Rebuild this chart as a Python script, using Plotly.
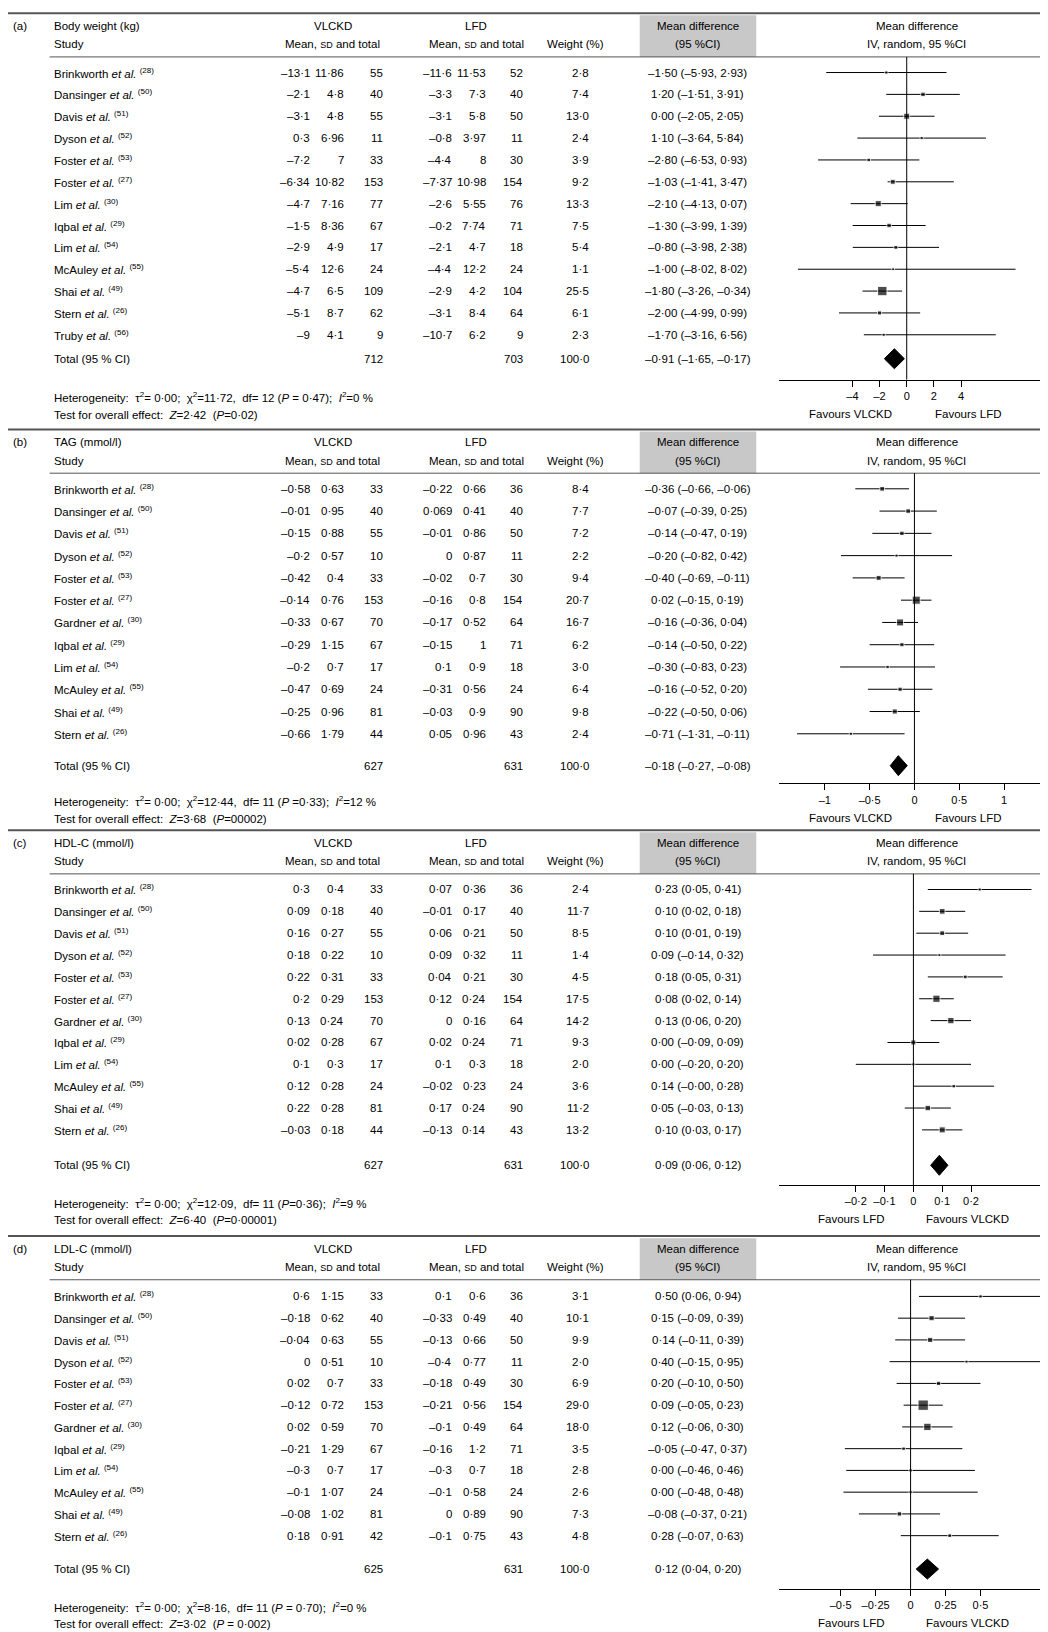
import plotly.graph_objects as go

W, H = 1048, 1632
K = 1048 / 1007  # layout below measured on a 1007-wide view

studies_a = ["Brinkworth", "Dansinger", "Davis", "Dyson", "Foster", "Foster", "Lim", "Iqbal",
             "Lim", "McAuley", "Shai", "Stern", "Truby"]
refs_a = [28, 50, 51, 52, 53, 27, 30, 29, 54, 55, 49, 26, 56]
studies_bcd = ["Brinkworth", "Dansinger", "Davis", "Dyson", "Foster", "Foster", "Gardner", "Iqbal",
               "Lim", "McAuley", "Shai", "Stern"]
refs_bcd = [28, 50, 51, 52, 53, 27, 30, 29, 54, 55, 49, 26]

# (a) body weight
a_vl_mean = [-13.1, -2.1, -3.1, 0.3, -7.2, -6.34, -4.7, -1.5, -2.9, -5.4, -4.7, -5.1, -9]
a_vl_sd = [11.86, 4.8, 4.8, 6.96, 7, 10.82, 7.16, 8.36, 4.9, 12.6, 6.5, 8.7, 4.1]
a_vl_n = [55, 40, 55, 11, 33, 153, 77, 67, 17, 24, 109, 62, 9]
a_lf_mean = [-11.6, -3.3, -3.1, -0.8, -4.4, -7.37, -2.6, -0.2, -2.1, -4.4, -2.9, -3.1, -10.7]
a_lf_sd = [11.53, 7.3, 5.8, 3.97, 8, 10.98, 5.55, 7.74, 4.7, 12.2, 4.2, 8.4, 6.2]
a_lf_n = [52, 40, 50, 11, 30, 154, 76, 71, 18, 24, 104, 64, 9]
a_w = [2.8, 7.4, 13.0, 2.4, 3.9, 9.2, 13.3, 7.5, 5.4, 1.1, 25.5, 6.1, 2.3]
a_md = [-1.50, 1.20, 0.00, 1.10, -2.80, -1.03, -2.10, -1.30, -0.80, -1.00, -1.80, -2.00, -1.70]
a_lo = [-5.93, -1.51, -2.05, -3.64, -6.53, -1.41, -4.13, -3.99, -3.98, -8.02, -3.26, -4.99, -3.16]
a_hi = [2.93, 3.91, 2.05, 5.84, 0.93, 3.47, 0.07, 1.39, 2.38, 8.02, -0.34, 0.99, 6.56]
a_tot = [712, 703, 100.0, -0.91, -1.65, -0.17]

# (b) TAG
b_vl_mean = [-0.58, -0.01, -0.15, -0.2, -0.42, -0.14, -0.33, -0.29, -0.2, -0.47, -0.25, -0.66]
b_vl_sd = [0.63, 0.95, 0.88, 0.57, 0.4, 0.76, 0.67, 1.15, 0.7, 0.69, 0.96, 1.79]
b_vl_n = [33, 40, 55, 10, 33, 153, 70, 67, 17, 24, 81, 44]
b_lf_mean = [-0.22, 0.069, -0.01, 0, -0.02, -0.16, -0.17, -0.15, 0.1, -0.31, -0.03, 0.05]
b_lf_sd = [0.66, 0.41, 0.86, 0.87, 0.7, 0.8, 0.52, 1, 0.9, 0.56, 0.9, 0.96]
b_lf_n = [36, 40, 50, 11, 30, 154, 64, 71, 18, 24, 90, 43]
b_w = [8.4, 7.7, 7.2, 2.2, 9.4, 20.7, 16.7, 6.2, 3.0, 6.4, 9.8, 2.4]
b_md = [-0.36, -0.07, -0.14, -0.20, -0.40, 0.02, -0.16, -0.14, -0.30, -0.16, -0.22, -0.71]
b_lo = [-0.66, -0.39, -0.47, -0.82, -0.69, -0.15, -0.36, -0.50, -0.83, -0.52, -0.50, -1.31]
b_hi = [-0.06, 0.25, 0.19, 0.42, -0.11, 0.19, 0.04, 0.22, 0.23, 0.20, 0.06, -0.11]
b_tot = [627, 631, 100.0, -0.18, -0.27, -0.08]

# (c) HDL-C
c_vl_mean = [0.3, 0.09, 0.16, 0.18, 0.22, 0.2, 0.13, 0.02, 0.1, 0.12, 0.22, -0.03]
c_vl_sd = [0.4, 0.18, 0.27, 0.22, 0.31, 0.29, 0.24, 0.28, 0.3, 0.28, 0.28, 0.18]
c_vl_n = [33, 40, 55, 10, 33, 153, 70, 67, 17, 24, 81, 44]
c_lf_mean = [0.07, -0.01, 0.06, 0.09, 0.04, 0.12, 0, 0.02, 0.1, -0.02, 0.17, -0.13]
c_lf_sd = [0.36, 0.17, 0.21, 0.32, 0.21, 0.24, 0.16, 0.24, 0.3, 0.23, 0.24, 0.14]
c_lf_n = [36, 40, 50, 11, 30, 154, 64, 71, 18, 24, 90, 43]
c_w = [2.4, 11.7, 8.5, 1.4, 4.5, 17.5, 14.2, 9.3, 2.0, 3.6, 11.2, 13.2]
c_md = [0.23, 0.10, 0.10, 0.09, 0.18, 0.08, 0.13, 0.00, 0.00, 0.14, 0.05, 0.10]
c_lo = [0.05, 0.02, 0.01, -0.14, 0.05, 0.02, 0.06, -0.09, -0.20, -0.0, -0.03, 0.03]
c_hi = [0.41, 0.18, 0.19, 0.32, 0.31, 0.14, 0.20, 0.09, 0.20, 0.28, 0.13, 0.17]
c_tot = [627, 631, 100.0, 0.09, 0.06, 0.12]

# (d) LDL-C
d_vl_mean = [0.6, -0.18, -0.04, 0, 0.02, -0.12, 0.02, -0.21, -0.3, -0.1, -0.08, 0.18]
d_vl_sd = [1.15, 0.62, 0.63, 0.51, 0.7, 0.72, 0.59, 1.29, 0.7, 1.07, 1.02, 0.91]
d_vl_n = [33, 40, 55, 10, 33, 153, 70, 67, 17, 24, 81, 42]
d_lf_mean = [0.1, -0.33, -0.13, -0.4, -0.18, -0.21, -0.1, -0.16, -0.3, -0.1, 0, -0.1]
d_lf_sd = [0.6, 0.49, 0.66, 0.77, 0.49, 0.56, 0.49, 1.2, 0.7, 0.58, 0.89, 0.75]
d_lf_n = [36, 40, 50, 11, 30, 154, 64, 71, 18, 24, 90, 43]
d_w = [3.1, 10.1, 9.9, 2.0, 6.9, 29.0, 18.0, 3.5, 2.8, 2.6, 7.3, 4.8]
d_md = [0.50, 0.15, 0.14, 0.40, 0.20, 0.09, 0.12, -0.05, 0.00, 0.00, -0.08, 0.28]
d_lo = [0.06, -0.09, -0.11, -0.15, -0.10, -0.05, -0.06, -0.47, -0.46, -0.48, -0.37, -0.07]
d_hi = [0.94, 0.39, 0.39, 0.95, 0.50, 0.23, 0.30, 0.37, 0.46, 0.48, 0.21, 0.63]
d_tot = [625, 631, 100.0, 0.12, 0.04, 0.20]

panels = [
    dict(tag="(a)", title="Body weight (kg)", studies=studies_a, refs=refs_a,
         vm=a_vl_mean, vs=a_vl_sd, vn=a_vl_n, lm=a_lf_mean, ls=a_lf_sd, ln=a_lf_n,
         w=a_w, md=a_md, lo=a_lo, hi=a_hi, tot=a_tot,
         het="Heterogeneity:  τ<sup>2</sup>= 0·00;  χ<sup>2</sup>=11·72,  df= 12 (<i>P</i> = 0·47);  <i>I</i><sup>2</sup>=0 %",
         test="Test for overall effect:  <i>Z</i>=2·42  (<i>P</i>=0·02)",
         ticks=[-4, -2, 0, 2, 4], rng=[-9.4, 11.0], fav=["Favours VLCKD", "Favours LFD"],
         top=5, row0=62, step=21.0, total=337, axis=357),
    dict(tag="(b)", title="TAG (mmol/l)", studies=studies_bcd, refs=refs_bcd,
         vm=b_vl_mean, vs=b_vl_sd, vn=b_vl_n, lm=b_lf_mean, ls=b_lf_sd, ln=b_lf_n,
         w=b_w, md=b_md, lo=b_lo, hi=b_hi, tot=b_tot,
         het="Heterogeneity:  τ<sup>2</sup>= 0·00;  χ<sup>2</sup>=12·44,  df= 11 (<i>P</i> =0·33);  <i>I</i><sup>2</sup>=12 %",
         test="Test for overall effect:  <i>Z</i>=3·68  (<i>P</i>=00002)",
         ticks=[-1, -0.5, 0, 0.5, 1], rng=[-1.51, 1.58], fav=["Favours VLCKD", "Favours LFD"],
         top=405, row0=462, step=21.4, total=728, axis=745),
    dict(tag="(c)", title="HDL-C (mmol/l)", studies=studies_bcd, refs=refs_bcd,
         vm=c_vl_mean, vs=c_vl_sd, vn=c_vl_n, lm=c_lf_mean, ls=c_lf_sd, ln=c_lf_n,
         w=c_w, md=c_md, lo=c_lo, hi=c_hi, tot=c_tot,
         het="Heterogeneity:  τ<sup>2</sup>= 0·00;  χ<sup>2</sup>=12·09,  df= 11 (<i>P</i>=0·36);  <i>I</i><sup>2</sup>=9 %",
         test="Test for overall effect:  <i>Z</i>=6·40  (<i>P</i>=0·00001)",
         ticks=[-0.2, -0.1, 0, 0.1, 0.2], rng=[-0.466, 0.495], fav=["Favours LFD", "Favours VLCKD"],
         top=790, row0=847, step=21.0, total=1112, axis=1131),
    dict(tag="(d)", title="LDL-C (mmol/l)", studies=studies_bcd, refs=refs_bcd,
         vm=d_vl_mean, vs=d_vl_sd, vn=d_vl_n, lm=d_lf_mean, ls=d_lf_sd, ln=d_lf_n,
         w=d_w, md=d_md, lo=d_lo, hi=d_hi, tot=d_tot,
         het="Heterogeneity:  τ<sup>2</sup>= 0·00;  χ<sup>2</sup>=8·16,  df= 11 (<i>P</i> = 0·70);  <i>I</i><sup>2</sup>=0 %",
         test="Test for overall effect:  <i>Z</i>=3·02  (<i>P</i> = 0·002)",
         ticks=[-0.5, -0.25, 0, 0.25, 0.5], rng=[-0.94, 1.04], fav=["Favours LFD", "Favours VLCKD"],
         top=1180, row0=1238, step=20.9, total=1500, axis=1519),
]

FONT = "Liberation Sans Narrow, Arial Narrow, Liberation Sans, sans-serif"
FS = 11.5


def fmt(v, spec="g"):
    s = format(v, spec)
    return s.replace("-", "–").replace(".", "·")


def X(p):
    return p * K / W


def Y(p):
    return p * K


fig = go.Figure()
ann = []
shapes = []


def txt(x, y, s, anchor="left", size=FS, font=FONT):
    ann.append(dict(x=X(x), y=Y(y), xref="paper", yref="y", text=s, showarrow=False,
                    xanchor=anchor, yanchor="middle", font=dict(size=size, family=font, color="black")))


small = "<span style='font-size:9px'>SD</span>"
for k, p in enumerate(panels):
    xa = "x" if k == 0 else f"x{k + 1}"
    t = p["top"]
    # lines
    shapes.append(dict(type="line", xref="paper", yref="y", x0=0, x1=1, y0=Y(t), y1=Y(t),
                       line=dict(color="#555", width=2)))
    shapes.append(dict(type="rect", xref="paper", yref="y", x0=X(607), x1=X(719), y0=Y(t + 2), y1=Y(t + 42),
                       fillcolor="#c8c8c8", line=dict(width=0), layer="below"))
    shapes.append(dict(type="line", xref="paper", yref="y", x0=X(40), x1=1, y0=Y(t + 42), y1=Y(t + 42),
                       line=dict(color="#555", width=1)))
    h1, h2 = t + 12, t + 30
    txt(3, h1, p["tag"])
    txt(42, h1, p["title"])
    txt(42, h2, "Study")
    txt(312, h1, "VLCKD", "center")
    txt(312, h2, f"Mean, {small} and total", "center")
    txt(450, h1, "LFD", "center")
    txt(450, h2, f"Mean, {small} and total", "center")
    txt(545, h2, "Weight (%)", "center")
    txt(663, h1, "Mean difference", "center")
    txt(663, h2, "(95 %CI)", "center")
    txt(873, h1, "Mean difference", "center")
    txt(873, h2, "IV, random, 95 %CI", "center")

    ys = []
    for i, name in enumerate(p["studies"]):
        y = p["row0"] + i * p["step"]
        ys.append(Y(y))
        txt(42, y, f"{name} <i>et al.</i> <sup>({p['refs'][i]})</sup>")
        txt(292, y, fmt(p["vm"][i]), "right")
        txt(325, y, fmt(p["vs"][i]), "right")
        txt(362, y, str(p["vn"][i]), "right")
        txt(429, y, fmt(p["lm"][i]), "right")
        txt(461, y, fmt(p["ls"][i]), "right")
        txt(497, y, str(p["ln"][i]), "right")
        txt(560, y, fmt(p["w"][i], ".1f"), "right")
        txt(663, y, f"{fmt(p['md'][i], '.2f')} ({fmt(p['lo'][i], '.2f')}, {fmt(p['hi'][i], '.2f')})", "center")
    tt = p["tot"]
    txt(42, p["total"], "Total (95 % CI)")
    txt(362, p["total"], str(tt[0]), "right")
    txt(497, p["total"], str(tt[1]), "right")
    txt(560, p["total"], fmt(tt[2], ".1f"), "right")
    txt(663, p["total"], f"{fmt(tt[3], '.2f')} ({fmt(tt[4], '.2f')}, {fmt(tt[5], '.2f')})", "center")
    txt(42, p["axis"] + 17, p["het"])
    txt(42, p["axis"] + 34, p["test"])
    txt(810, p["axis"] + 33, p["fav"][0], "center")
    txt(922, p["axis"] + 33, p["fav"][1], "center")

    # CI lines
    cx, cy = [], []
    for i in range(len(ys)):
        cx += [p["lo"][i], p["hi"][i], None]
        cy += [ys[i], ys[i], None]
    fig.add_trace(go.Scatter(x=cx, y=cy, xaxis=xa, yaxis="y", mode="lines",
                             line=dict(color="black", width=1), showlegend=False, hoverinfo="skip"))
    fig.add_trace(go.Scatter(x=p["md"], y=ys, xaxis=xa, yaxis="y", mode="markers",
                             marker=dict(symbol="square", color="black", size=[2.5 + w * 0.27 for w in p["w"]]),
                             showlegend=False))
    yt = Y(p["total"])
    fig.add_trace(go.Scatter(x=[tt[4], tt[3], tt[5], tt[3], tt[4]], y=[yt, yt - 10, yt, yt + 10, yt],
                             xaxis=xa, yaxis="y", mode="lines", fill="toself", fillcolor="black",
                             line=dict(color="black", width=1), showlegend=False, hoverinfo="skip"))
    shapes.append(dict(type="line", xref=xa, yref="y", x0=0, x1=0, y0=Y(t + 42), y1=Y(p["axis"]),
                       line=dict(color="black", width=1)))
    fig.layout[("xaxis" if k == 0 else f"xaxis{k + 1}")] = dict(
        domain=[X(741), 1.0], anchor="free", position=1 - Y(p["axis"]) / H, range=p["rng"],
        showline=True, linecolor="black", linewidth=1, showgrid=False, zeroline=False,
        tickmode="array", tickvals=p["ticks"], ticktext=[fmt(v) for v in p["ticks"]],
        ticks="outside", ticklen=6, tickcolor="black",
        tickfont=dict(size=11, family="Liberation Sans, Arial, sans-serif", color="black"))

fig.update_layout(
    width=W, height=H, margin=dict(l=0, r=0, t=0, b=0),
    paper_bgcolor="white", plot_bgcolor="rgba(0,0,0,0)",
    yaxis=dict(range=[H, 0], domain=[0, 1], visible=False, anchor="x"),
    annotations=ann, shapes=shapes,
)

fig.write_html("out.html")
